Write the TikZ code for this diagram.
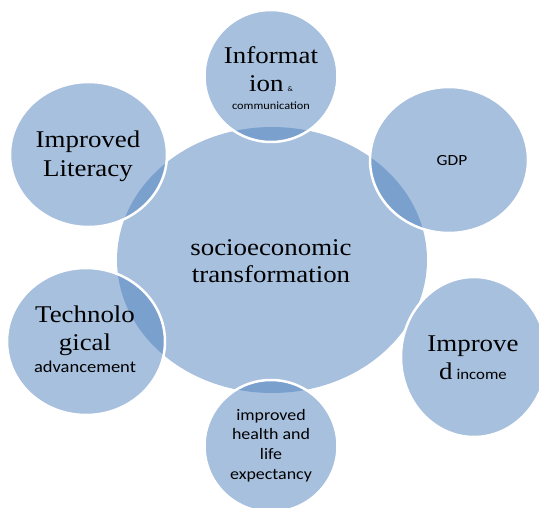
\documentclass[tikz,border=0pt]{standalone}
\usepackage{fontspec}
\setmainfont{Liberation Serif}
\newfontfamily\serfont{Liberation Serif}[FakeStretch=1.12]
\newfontfamily\calfont{Carlito}[FakeStretch=1.12]
\usetikzlibrary{shapes.geometric}
\definecolor{accent}{HTML}{4F81BD}
\tikzset{
  core/.style={ellipse, fill=accent, fill opacity=0.5, inner sep=0pt},
  bubble/.style={ellipse, fill=accent, fill opacity=0.5, inner sep=0pt, draw=white, draw opacity=1, line width=2.5pt},
  ser/.style={anchor=base, inner sep=0pt, text=black, font=\serfont\fontsize{24}{28}\selectfont},
  san/.style={anchor=base, inner sep=0pt, text=black, font=\calfont\fontsize{16}{20}\selectfont},
}
\begin{document}
\begin{tikzpicture}[x=1pt, y=-1pt]
\useasboundingbox (0,0) rectangle (539,508);
\clip (0,0) rectangle (539,508);
% central
\node[core, minimum width=310pt, minimum height=266pt] (core) at (272,260) {};
% outer bubbles
\node[bubble, minimum width=133pt, minimum height=132pt] (info) at (271,76) {};
\node[bubble, minimum width=158pt, minimum height=146pt] (gdp) at (449,160) {};
\node[bubble, minimum width=157pt, minimum height=145pt] (lit) at (88.5,154.5) {};
\node[bubble, minimum width=158pt, minimum height=147pt] (tech) at (86,341.5) {};
\node[bubble, minimum width=146pt, minimum height=160pt] (inc) at (474,357) {};
\node[bubble, minimum width=133pt, minimum height=132pt] (health) at (271,446) {};
% texts
\node[ser] (coret1) at (271,256) {socioeconomic};
\node[ser] (coret2) at (271,283) {transformation};
\node[ser] (infot1) at (271,64) {Informat};
\node[ser] (infot2) at (271,92) {ion\,{\calfont\fontsize{7}{8}\selectfont\&}};
\node[san, font=\calfont\fontsize{11}{13}\selectfont] (infot3) at (271,110) {communication};
\node[san, font=\calfont\fontsize{15.5}{18}\selectfont] (gdpt) at (452,166) {GDP};
\node[ser] (litt1) at (88,148) {Improved};
\node[ser] (litt2) at (88,177) {Literacy};
\node[ser] (techt1) at (85,323) {Technolo};
\node[ser] (techt2) at (85,351) {gical};
\node[san, font=\calfont\fontsize{16.5}{20}\selectfont] (techt3) at (85,373) {advancement};
\node[ser] (inct1) at (473,352) {Improve};
\node[ser] (inct2) at (473,379) {d\,{\calfont\fontsize{15}{18}\selectfont income}};
\node[san] (healtht1) at (271,420) {improved};
\node[san] (healtht2) at (271,439) {health and};
\node[san] (healtht3) at (271,459) {life};
\node[san] (healtht4) at (271,479) {expectancy};
\end{tikzpicture}
\end{document}
